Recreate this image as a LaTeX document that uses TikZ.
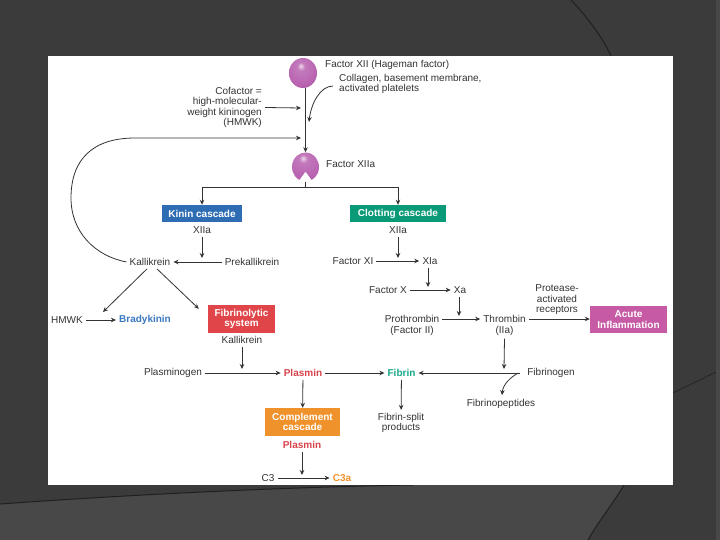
\documentclass[tikz,border=0pt]{standalone}
\usepackage{fontspec}
\setmainfont{Liberation Sans}
\usetikzlibrary{arrows.meta}
\usetikzlibrary{shapes.geometric}
\usetikzlibrary{calc}
\definecolor{slidebg}{HTML}{3B3B3B}
\definecolor{slidelow}{HTML}{484848}
\definecolor{slideline}{HTML}{202020}
\definecolor{inkgrey}{HTML}{333333}
\definecolor{ballpurple}{HTML}{B862B0}
\definecolor{kininblue}{HTML}{2E6DB4}
\definecolor{bradyblue}{HTML}{3A78C0}
\definecolor{clotgreen}{HTML}{0B9A78}
\definecolor{fibgreen}{HTML}{14A887}
\definecolor{fibred}{HTML}{E0454A}
\definecolor{plasred}{HTML}{D9434C}
\definecolor{complorange}{HTML}{F0922C}
\definecolor{acutepink}{HTML}{C65AA5}
\pgfdeclareradialshading{factorsphere}{\pgfpoint{-4bp}{12bp}}{%
	color(0bp)=(ballpurple!25!white); color(7bp)=(ballpurple!85!white);
	color(28bp)=(ballpurple); color(52bp)=(ballpurple!72!black);
	color(70bp)=(ballpurple!65!black)}
\newcommand{\diagfont}{\fontsize{10}{10.5}\selectfont}
\tikzset{
	lbl/.style={inner sep=3pt, text=inkgrey, font=\diagfont},
	hilite/.style={lbl, font=\diagfont\bfseries},
	casc/.style={inner sep=1pt, text=white, font=\diagfont\bfseries, align=center},
	arr/.style={draw=inkgrey, line width=0.8pt, -{Stealth[length=5pt,width=4.5pt]}},
	wire/.style={draw=inkgrey, line width=0.8pt},
	slidecurve/.style={draw=slideline, line width=1pt}
}

\begin{document}
\begin{tikzpicture}[x=1pt,y=-1pt]
	% slide, 720 x 540
	\useasboundingbox (0,0) rectangle (720,540);
	\fill[slidebg] (0,0) rectangle (720,540);
	\fill[slidelow] (0,504) .. controls (140,494) and (290,487) .. (413,485) -- (624,485) .. controls (612,505) and (598,522) .. (588,540) -- (0,540) -- cycle;
	\draw[slidecurve] (0,504) .. controls (140,494) and (290,487) .. (413,485);
	\draw[slidecurve] (624,485) .. controls (612,505) and (598,522) .. (588,540);
	\draw[slidecurve] (571,0) .. controls (588,18) and (603,38) .. (611,56);
	\draw[slidecurve, line width=0.6pt] (673,393) -- (716,372);
	\fill[slidelow] (716,0) rectangle (720,540);
	\fill[white] (48,56) rectangle (673,485);

	% factor XII and XIIa
	\node[ellipse, minimum width=28pt, minimum height=30pt, inner sep=0pt, shading=factorsphere] (f12) at (303,73) {};
	\node[ellipse, minimum width=27pt, minimum height=29pt, inner sep=0pt] (f12a) at (305.5,167) {};
	\shade[shading=factorsphere] (f12a.center) ++(117:13.5 and 14.5) arc[start angle=117, end angle=423, x radius=13.5, y radius=14.5] -- ($(f12a.center)+(0,4.5)$) -- cycle;
	\node[lbl, anchor=west] (f12lbl) at (322,65) {Factor XII (Hageman factor)};
	\node[lbl, anchor=west] (f12albl) at (323,164) {Factor XIIa};
	\node[lbl, anchor=west, align=left] (collagen) at (336,84) {Collagen, basement membrane,\\activated platelets};
	\node[lbl, anchor=east, align=right] (cofactor) at (265,107.5) {Cofactor =\\high-molecular-\\weight kininogen\\(HMWK)};
	\coordinate (cofend) at (301,108);
	\coordinate (colend) at (309,122);
	\coordinate (fbend) at (301,138);
	\draw[arr] (f12.south -| f12a.north) -- (f12a.north);
	\draw[arr] (cofactor.east) -- (cofend);
	\draw[arr] ([xshift=-3pt,yshift=-2pt]collagen.west) .. controls (320,86) and (311,104) .. (colend);

	% split into the two cascades
	\node[casc, fill=kininblue, minimum width=80pt, minimum height=17pt] (kinin) at (202,213.5) {Kinin cascade};
	\node[casc, fill=clotgreen, minimum width=96pt, minimum height=17pt] (clot) at (398,213.5) {Clotting cascade};
	\coordinate (split) at (305,187);
	\draw[wire] (f12a.south -| split) -- (split);
	\draw[arr] (split) -| (kinin.north);
	\draw[arr] (split) -| (clot.north);

	% kinin side
	\node[lbl] (kxiia) at (202,230) {XIIa};
	\node[lbl] (kal) at (150,262) {Kallikrein};
	\node[lbl] (prekal) at (252,262) {Prekallikrein};
	\node[lbl] (hmwk) at (67,320) {HMWK};
	\node[hilite, text=bradyblue] (brady) at (145,320) {Bradykinin};
	\node[casc, fill=fibred, minimum width=67pt, minimum height=28pt] (fibsys) at (241.5,319) {Fibrinolytic\\system};
	\node[lbl] (fkal) at (242,340) {Kallikrein};
	\coordinate (kmid) at (202,258);
	\coordinate (hbmid) at (103,312);
	\draw[arr] (prekal) -- (kal);
	\draw[arr] (kxiia) -- (kmid);
	\draw[arr] (hmwk) -- (brady);
	\draw[arr] ([xshift=-3pt]kal.south) -- (hbmid);
	\draw[arr] ([xshift=7pt]kal.south) -- ([xshift=-9pt,yshift=-4pt]fibsys.north west);
	% feedback to factor XII
	\draw[arr] (kal.west) .. controls (95,256) and (71,232) .. (71,198) .. controls (71,160) and (92,138) .. (135,138) -- (fbend);

	% clotting side
	\node[lbl] (cxiia) at (398,230) {XIIa};
	\node[lbl] (f11) at (353,261) {Factor XI};
	\node[lbl] (xia) at (430,261) {XIa};
	\node[lbl] (f10) at (388,290) {Factor X};
	\node[lbl] (xa) at (460,290) {Xa};
	\node[lbl, align=center] (prothr) at (412,325.5) {Prothrombin\\(Factor II)};
	\node[lbl, align=center] (thromb) at (504.5,325.5) {Thrombin\\(IIa)};
	\node[lbl, align=center] (par) at (557,300) {Protease-\\activated\\receptors};
	\node[casc, fill=acutepink, minimum width=77pt, minimum height=27pt] (acute) at (628.5,319.5) {Acute\\Inflammation};
	\coordinate (rowii) at (0,319);
	\coordinate (c1mid) at (398,258);
	\coordinate (c2mid) at (428,287);
	\coordinate (c3mid) at (459,316);
	\coordinate (c4mid) at (504,369);
	\draw[arr] (cxiia) -- (c1mid);
	\draw[arr] (f11) -- (xia);
	\draw[arr] (c2mid |- xia.south) -- (c2mid);
	\draw[arr] (f10) -- (xa);
	\draw[arr] (c3mid |- xa.south) -- (c3mid);
	\draw[arr] (prothr.east |- rowii) -- (thromb.west |- rowii);
	\draw[arr] (thromb.east |- rowii) -- (acute.west |- rowii);
	\draw[arr] (thromb.south) -- (c4mid);

	% plasmin and fibrin row
	\node[lbl] (plgen) at (173,373) {Plasminogen};
	\node[hilite, text=plasred] (plasmin) at (303,373) {Plasmin};
	\node[hilite, text=fibgreen] (fibrin) at (401.5,373) {Fibrin};
	\node[lbl] (fibgen) at (551,373) {Fibrinogen};
	\node[lbl] (fpep) at (501,404) {Fibrinopeptides};
	\node[lbl, align=center] (fsp) at (401,423) {Fibrin-split\\products};
	\coordinate (c6mid) at (242,369);
	\draw[arr] (fkal) -- (c6mid);
	\draw[arr] (plgen) -- (plasmin);
	\draw[arr] (plasmin) -- (fibrin);
	\draw[arr] ([xshift=-4pt]fibgen.west) -- (fibrin.east);
	\draw[arr] ([xshift=-6pt]fibgen.west) .. controls (511,377) and (503,384) .. ([xshift=1pt,yshift=1pt]fpep.north);
	\draw[arr] (fibrin) -- (fsp);

	% complement
	\node[casc, fill=complorange, minimum width=75pt, minimum height=28pt] (compl) at (302.5,422) {Complement\\cascade};
	\node[hilite, text=plasred] (plasmin2) at (302,445) {Plasmin};
	\node[lbl] (c3) at (268,478) {C3};
	\node[hilite, text=complorange] (c3a) at (342,478) {C3a};
	\coordinate (c5mid) at (302,475);
	\draw[arr] (plasmin) -- (compl);
	\draw[arr] (plasmin2) -- (c5mid);
	\draw[arr] (c3) -- (c3a);
\end{tikzpicture}
\end{document}
